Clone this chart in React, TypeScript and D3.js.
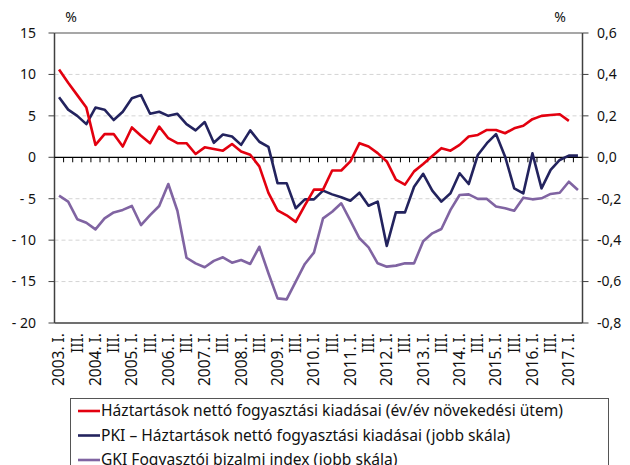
import React from "react";
import * as d3 from "d3";

// 2003 Q1 .. 2017 Q2
const quarters: string[] = [];
for (let y = 2003; y <= 2017; y++) {
  for (let q = 1; q <= 4; q++) {
    if (y === 2017 && q > 2) break;
    quarters.push(`${y}Q${q}`);
  }
}

const tickLabels = [
  "2003. I.", "III.", "2004. I.", "III.", "2005. I.", "III.", "2006. I.", "III.",
  "2007. I.", "III.", "2008. I.", "III.", "2009. I.", "III.", "2010. I.", "III.",
  "2011. I.", "III.", "2012. I.", "III.", "2013. I.", "III.", "2014. I.", "III.",
  "2015. I.", "III.", "2016. I.", "III.", "2017. I.",
];

// bal skála, %
const consumption = [
  10.6, 9.0, 7.5, 6.0, 1.5, 2.8, 2.8, 1.3, 3.6, 2.6, 1.7, 3.7, 2.3, 1.7, 1.7, 0.4,
  1.2, 1.0, 0.8, 1.6, 0.7, 0.3, -1.1, -4.3, -6.4, -7.0, -7.8, -5.8, -3.9, -3.9,
  -1.6, -1.6, -0.5, 1.7, 1.3, 0.5, -0.5, -2.7, -3.3, -1.7, -0.8, 0.15, 1.1, 0.8,
  1.5, 2.5, 2.7, 3.3, 3.3, 2.9, 3.5, 3.8, 4.6, 5.0, 5.1, 5.2, 4.4,
];

// jobb skála
const pki = [
  0.29, 0.23, 0.2, 0.16, 0.24, 0.23, 0.18, 0.22, 0.285, 0.3, 0.21, 0.22, 0.2, 0.21,
  0.16, 0.13, 0.17, 0.07, 0.11, 0.1, 0.06, 0.13, 0.075, 0.05, -0.125, -0.125,
  -0.246, -0.203, -0.203, -0.161, -0.179, -0.193, -0.21, -0.171, -0.234, -0.214,
  -0.428, -0.266, -0.266, -0.142, -0.08, -0.161, -0.214, -0.174, -0.077, -0.129,
  0.011, 0.068, 0.112, 0.003, -0.15, -0.174, 0.019, -0.15, -0.061, -0.013, 0.008,
  0.008,
];

const gki = [
  -0.185, -0.214, -0.299, -0.316, -0.348, -0.295, -0.266, -0.254, -0.235, -0.327,
  -0.279, -0.235, -0.129, -0.258, -0.485, -0.512, -0.531, -0.5, -0.483, -0.509,
  -0.496, -0.515, -0.432, -0.56, -0.681, -0.686, -0.6, -0.515, -0.46, -0.295,
  -0.263, -0.222, -0.306, -0.391, -0.435, -0.512, -0.528, -0.523, -0.512, -0.512,
  -0.405, -0.367, -0.346, -0.254, -0.182, -0.179, -0.201, -0.201, -0.238, -0.246,
  -0.258, -0.195, -0.203, -0.198, -0.177, -0.171, -0.118, -0.158,
];

const leftTicks = [15, 10, 5, 0, -5, -10, -15, -20];
const rightTicks = [0.6, 0.4, 0.2, 0, -0.2, -0.4, -0.6, -0.8];

const legendItems = [
  { label: "Háztartások nettó fogyasztási kiadásai (év/év növekedési ütem)", color: "#e3000f" },
  { label: "PKI – Háztartások nettó fogyasztási kiadásai (jobb skála)", color: "#23235e" },
  { label: "GKI Fogyasztói bizalmi index (jobb skála)", color: "#8064a2" },
];

const font = "'Noto Sans', sans-serif";

export default function App() {
  const left = 54.5, right = 582.5, top = 33, bottom = 323;

  const x = d3.scaleBand<number>()
    .domain(quarters.map((_, i) => i))
    .range([left, right])
    .padding(0);
  const cx = (i: number) => (x(i) as number) + x.bandwidth() / 2;

  const yL = d3.scaleLinear().domain([-20, 15]).range([bottom, top]);
  const yR = d3.scaleLinear().domain([-0.8, 0.6]).range([bottom, top]);

  const lineL = d3.line<number>().x((_, i) => cx(i)).y(d => yL(d));
  const lineR = d3.line<number>().x((_, i) => cx(i)).y(d => yR(d));

  const fmtL = (v: number) => (v < 0 ? "- " + Math.abs(v) : String(v));
  const fmtR = (v: number) => v.toFixed(1).replace(".", ",").replace("-0,0", "0,0");

  return (
    <svg width={630} height={465} style={{ position: "absolute", left: 0, top: 0 }} fontFamily={font}>
      {/* rács */}
      {leftTicks.filter(t => t !== 15 && t !== 0 && t !== -20).map(t => (
        <line key={t} x1={left} x2={right} y1={yL(t)} y2={yL(t)} stroke="#d4d4d4" strokeWidth={1} strokeDasharray="4,3" />
      ))}
      <line x1={left} x2={right} y1={yL(15)} y2={yL(15)} stroke="#8a8a8a" strokeWidth={1.5} />
      <line x1={left} x2={right} y1={yL(-20)} y2={yL(-20)} stroke="#404040" strokeWidth={1.5} />

      {/* tengelyek */}
      <line x1={left} x2={left} y1={top} y2={bottom} stroke="#404040" strokeWidth={1.5} />
      <line x1={right} x2={right} y1={top} y2={bottom} stroke="#404040" strokeWidth={1.5} />
      {leftTicks.map(t => (
        <g key={t}>
          <line x1={left - 6} x2={left} y1={yL(t)} y2={yL(t)} stroke="#404040" />
          <text x={36} y={yL(t)} dy="0.35em" textAnchor="end" fontSize={14} fill="#111">{fmtL(t)}</text>
        </g>
      ))}
      {rightTicks.map(t => (
        <g key={t}>
          <line x1={right} x2={right + 6} y1={yR(t)} y2={yR(t)} stroke="#404040" />
          <text x={597} y={yR(t)} dy="0.35em" textAnchor="start" fontSize={14} fill="#111">{fmtR(t)}</text>
        </g>
      ))}
      <text x={71} y={22} textAnchor="middle" fontSize={14} fill="#111">%</text>
      <text x={560} y={22} textAnchor="middle" fontSize={14} fill="#111">%</text>

      {/* nullvonal és kategória-osztások */}
      <line x1={left} x2={right} y1={yL(0)} y2={yL(0)} stroke="#000" strokeWidth={1.2} />
      {quarters.slice(1).map((_, k) => (
        <line key={k} x1={x(k + 1) as number} x2={x(k + 1) as number} y1={yL(0)} y2={yL(0) + 5} stroke="#000" />
      ))}
      {tickLabels.map((lab, k) => {
        const px = cx(k * 2);
        return (
          <text key={k} transform={`translate(${px},333) rotate(-90)`} dy="0.35em" textAnchor="end" fontSize={15.5} fill="#111">
            {lab}
          </text>
        );
      })}

      {/* vonalak */}
      <path d={lineR(gki) as string} fill="none" stroke="#8064a2" strokeWidth={2.6} strokeLinejoin="round" />
      <path d={lineR(pki) as string} fill="none" stroke="#23235e" strokeWidth={2.6} strokeLinejoin="round" />
      <path d={lineL(consumption) as string} fill="none" stroke="#e3000f" strokeWidth={2.6} strokeLinejoin="round" />

      {/* jelmagyarázat */}
      <rect x={70.5} y={398.5} width={538} height={90} fill="#fff" stroke="#555" />
      {legendItems.map((it, k) => (
        <g key={k} transform={`translate(0,${411 + k * 24.5})`}>
          <line x1={78} x2={100} y1={0} y2={0} stroke={it.color} strokeWidth={2.6} />
          <text x={101} y={0} dy="0.35em" fontSize={15.6} fill="#111">{it.label}</text>
        </g>
      ))}
    </svg>
  );
}
